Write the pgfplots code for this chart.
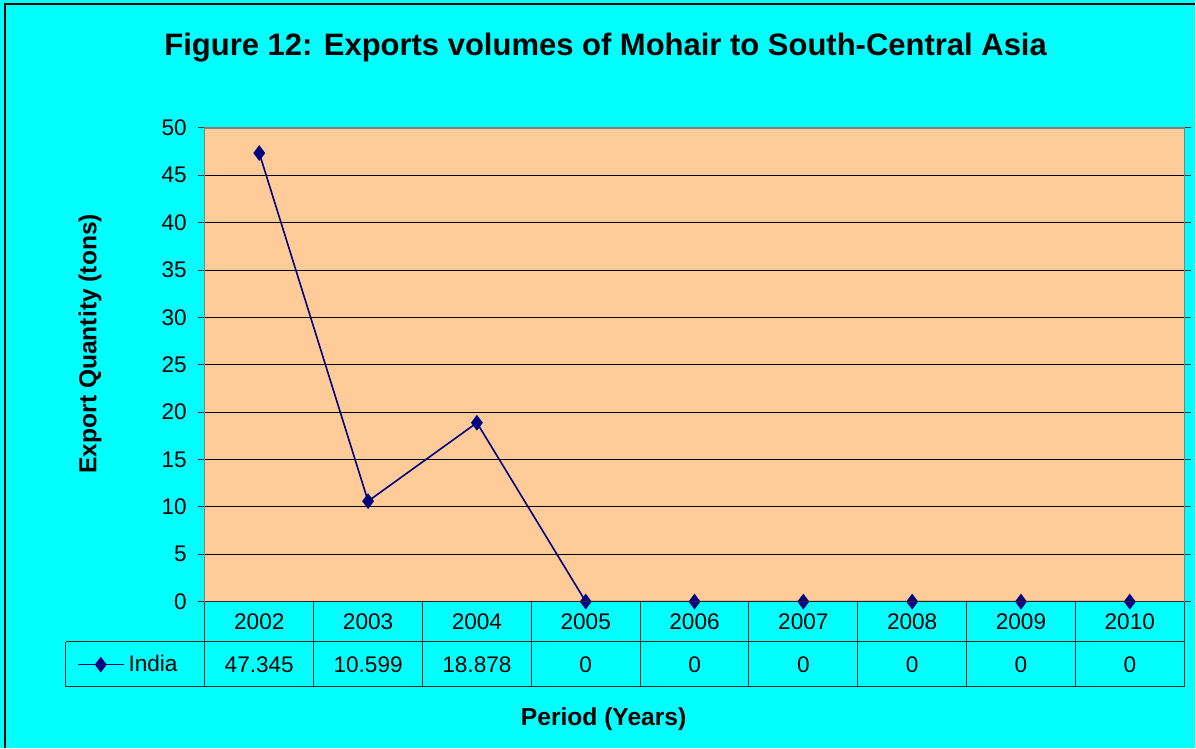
\documentclass[border=0pt]{standalone}
\usepackage{pgfplots}
\pgfplotsset{compat=1.18}
\usepackage{fontspec}
\setmainfont{Liberation Sans}
\definecolor{bgcyan}{RGB}{0,255,255}
\definecolor{plotpeach}{RGB}{255,204,153}
\definecolor{india}{RGB}{0,0,128}

\begin{document}
\begin{tikzpicture}[x=1pt,y=1pt]
% chart area background (1px = 0.5pt)
\fill[bgcyan] (0,0) rectangle (598,374);
\draw[black, line width=0.8pt] (2.5,0) -- (2.5,372) -- (598,372);

\node[font=\fontsize{15.5}{18}\selectfont\bfseries] at (303,350)
  {Figure 12: Exports volumes of Mohair to South-Central Asia};
\node[font=\fontsize{12.3}{14}\selectfont\bfseries, rotate=90] at (45,202)
  {Export Quantity (tons)};
\node[font=\fontsize{12.3}{14}\selectfont\bfseries] at (302,14)
  {Period (Years)};

\begin{axis}[
  at={(102.5pt,73pt)}, anchor=south west,
  scale only axis,
  width=490pt, height=237pt,
  xmin=-0.5, xmax=8.5,
  ymin=0, ymax=50,
  ytick={0,5,...,50},
  xtick={0,...,8},
  xticklabels={2002,2003,2004,2005,2006,2007,2008,2009,2010},
  xticklabel style={anchor=center, yshift=-6.5pt},
  x tick style={draw=none},
  y tick style={draw=black!80, line width=0.5pt},
  tick align=outside,
  major tick length=3.5pt,
  yticklabel style={xshift=-2pt},
  ticklabel style={font=\fontsize{11.3}{13}\selectfont},
  /pgf/number format/assume math mode=true,
  ymajorgrids=true,
  grid style={black, line width=0.5pt},
  axis background/.style={fill=plotpeach},
  axis line style={draw=gray, line width=0.6pt},
  clip mode=individual,
  legend style={at={(-0.131,-0.133)}, anchor=west, draw=none, fill=none,
    font=\fontsize{11.3}{13}\selectfont, inner sep=0pt},
  legend image code/.code={
    \draw[#1] (0pt,0pt) -- (23pt,0pt);
    \draw[#1, only marks] plot coordinates {(11.5pt,0pt)};
  },
]
\addplot[india, line width=0.8pt, mark=diamond*, mark size=3.3pt,
  mark options={fill=india}]
  coordinates {(0,47.345) (1,10.599) (2,18.878) (3,0) (4,0) (5,0) (6,0) (7,0) (8,0)};
\addlegendentry{India}
\end{axis}

% data table under the axis
\draw[black!85, line width=0.5pt] (102.5,73) -- (592.5,73);
\draw[black!85, line width=0.5pt] (33,53) -- (592.5,53);
\draw[black!85, line width=0.5pt] (33,30.5) -- (592.5,30.5);
\draw[black!85, line width=0.5pt] (33,53) -- (33,30.5);
\foreach \k in {0,...,9}
  \draw[black!85, line width=0.5pt] ({102.5+\k*490/9},73) -- ({102.5+\k*490/9},30.5);
\foreach \v [count=\k from 0] in {47.345,10.599,18.878,0,0,0,0,0,0}
  \node[font=\fontsize{11.3}{13}\selectfont] at ({102.5+(\k+0.5)*490/9},41.5) {\v};
\end{tikzpicture}
\end{document}
